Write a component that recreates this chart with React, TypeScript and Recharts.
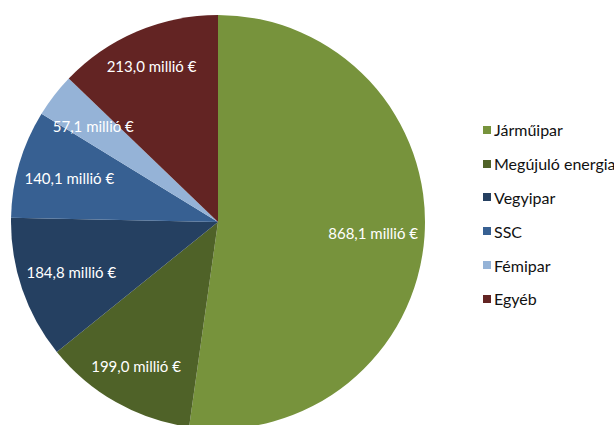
import React from 'react';
import { PieChart, Pie, Cell, Legend } from 'recharts';

const categories = ['Járműipar', 'Megújuló energia', 'Vegyipar', 'SSC', 'Fémipar', 'Egyéb'];
const values = [868.1, 199.0, 184.8, 140.1, 57.1, 213.0];
const colors = ['#77933C', '#4F6228', '#254061', '#376092', '#95B3D7', '#632423'];

const data = categories.map((name, i) => ({ name, value: values[i] }));

const FONT = 'Lato, "Open Sans", sans-serif';
const RAD = Math.PI / 180;

const fmt = (v: number) => v.toFixed(1).replace('.', ',') + ' millió €';

const renderLabel = (props: any) => {
  const { cx, cy, midAngle, outerRadius, value } = props;
  const dx = Math.cos(-midAngle * RAD);
  const dy = Math.sin(-midAngle * RAD);
  const hw = 47;
  const hh = 8;
  const pad = 4 + 9 * dy * dy;
  const d = outerRadius - (hw * Math.abs(dx) + hh * Math.abs(dy)) - pad;
  const x = cx + d * dx;
  const y = cy + d * dy;
  return (
    <text x={x} y={y} fill="#ffffff" textAnchor="middle" dominantBaseline="central"
      fontFamily={FONT} fontSize={15}>
      {fmt(value)}
    </text>
  );
};

const renderLegend = () => {
  return (
    <div style={{ fontFamily: FONT, fontSize: 16, color: '#111' }}>
      {categories.map((name, i) => (
        <div key={name} style={{ height: 33.8, display: 'flex', alignItems: 'center', whiteSpace: 'nowrap' }}>
          <span style={{ display: 'inline-block', width: 8, height: 8, background: colors[i], marginRight: 3 }} />
          <span>{name}</span>
        </div>
      ))}
    </div>
  );
};

export default function App() {
  return (
    <div style={{ position: 'absolute', left: 0, top: 0, width: 614, height: 425, overflow: 'hidden', background: '#fff' }}>
      <PieChart width={614} height={425} margin={{ top: 0, right: 0, bottom: 0, left: 0 }}>
        <Pie
          data={data}
          dataKey="value"
          nameKey="name"
          cx={218}
          cy={222}
          outerRadius={207}
          startAngle={90}
          endAngle={-270}
          stroke="none"
          label={renderLabel}
          labelLine={false}
          isAnimationActive={false}
        >
          {data.map((d, i) => (
            <Cell key={d.name} fill={colors[i]} />
          ))}
        </Pie>
        <Legend
          layout="vertical"
          content={renderLegend}
          wrapperStyle={{ left: 483, top: 113, width: 160 }}
        />
      </PieChart>
    </div>
  );
}
